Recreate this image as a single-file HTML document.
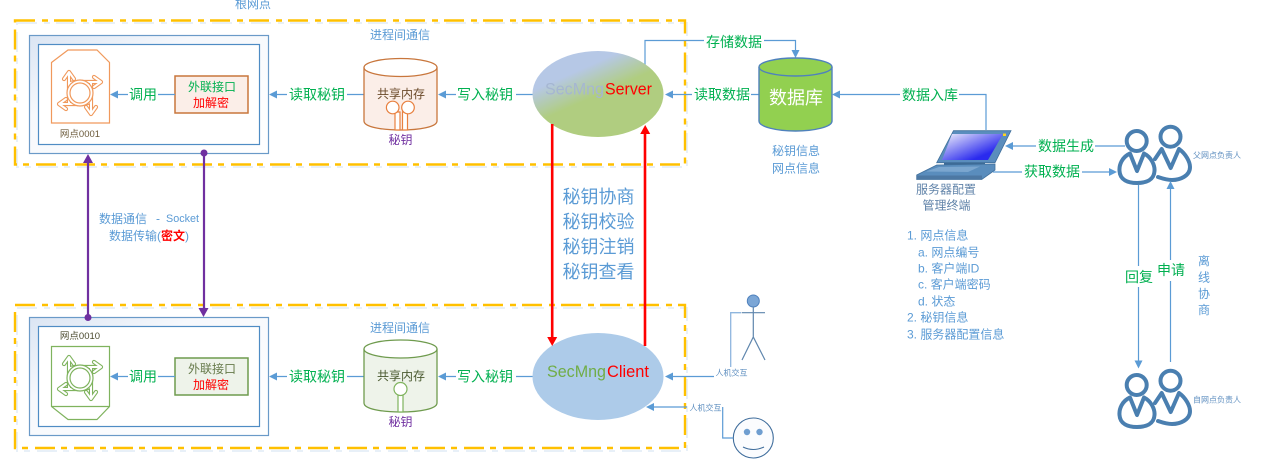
<!DOCTYPE html>
<html><head><meta charset="utf-8"><style>
html,body{margin:0;padding:0;background:#fff;width:1265px;height:473px;overflow:hidden}
svg{display:block}
text{font-family:"Liberation Sans","Noto Sans CJK SC",sans-serif;text-anchor:middle;dominant-baseline:central}
.g{fill:#00b050;font-size:14px}.b{fill:#5b9bd5;font-size:12px}.s{fill:#5f8fc0;font-size:8px}
.l{stroke:#5b9bd5;stroke-width:1.2;fill:none}.a{fill:#5b9bd5}
.w{fill:#fff}
.left{text-anchor:start}
</style></head><body>
<svg width="1265" height="473" viewBox="0 0 1265 473" xmlns="http://www.w3.org/2000/svg">
<defs>
<linearGradient id="box" x1="0" y1="0" x2="1" y2="1"><stop offset="0" stop-color="#dbe5f3"/><stop offset=".35" stop-color="#f6f8fc"/><stop offset="1" stop-color="#fff"/></linearGradient>
<linearGradient id="srv" x1="0.18" y1="0.05" x2="0.72" y2="0.85"><stop offset="0.25" stop-color="#b6c8e6"/><stop offset="0.58" stop-color="#b0cd80"/></linearGradient>
<linearGradient id="scr" x1="0" y1="0" x2="1" y2="1"><stop offset="0" stop-color="#f2f2fb"/><stop offset="0.75" stop-color="#2a2aee"/></linearGradient>
<g id="arms" fill="none" stroke-linejoin="round" stroke-linecap="round">
<path d="M69,95 L69,74 M64,79 L69,72 L74,79 M69,84 Q70,82 80,82 L99,82 M94,77 L101,82 L94,87 M91,82 L91,112 M86,107 L91,114 L96,107 M91,100 Q90,104 80,104 L61,104 M66,99 L59,104 L66,109 M69,104 L69,93"/>
</g>
<g id="people" fill="none" stroke="#4a7fb0" stroke-width="4" stroke-linecap="round">
<circle cx="1136.700" cy="141" r="10" fill="#fff"/>
<path d="M1130,153.500 C1122,157 1119,165 1119.500,171 C1120,180 1128,183 1137,183 C1146,183 1154,180 1154.500,171 C1155,165 1151,157 1144,153.500 L1137,171 Z" stroke-linejoin="round"/>
<circle cx="1170.500" cy="136.700" r="10" fill="#fff"/>
<path d="M1155,159 L1161.700,149 L1170.700,168 L1179,149 C1186,154 1190,162 1190,167 C1190,176 1180,180 1172,180 C1166,180 1161,178 1158,177" stroke-linejoin="round"/>
</g>
</defs>

<!-- dashed shadow + boxes -->
<rect x="17" y="23" width="670" height="144" fill="none" stroke="#e8f0f8" stroke-width="2" stroke-dasharray="20 7 6 6"/>
<rect x="17" y="308" width="670" height="143" fill="none" stroke="#e8f0f8" stroke-width="2" stroke-dasharray="20 7 6 6"/>
<rect x="15" y="20.500" width="670" height="144" fill="none" stroke="#ffc000" stroke-width="2.400" stroke-dasharray="20 7 6 6"/>
<rect x="15" y="305" width="670" height="143" fill="none" stroke="#ffc000" stroke-width="2.400" stroke-dasharray="20 7 6 6"/>

<text class="b" x="253" y="4">根网点</text>
<text class="b" x="400" y="35">进程间通信</text>
<text class="b" x="400" y="328">进程间通信</text>

<!-- node 1 -->
<rect x="29.500" y="35.500" width="239" height="118" fill="url(#box)" stroke="#6a9ac8" stroke-width="1.200"/>
<rect x="38.500" y="44.500" width="221" height="100" fill="#fff" stroke="#4f8cc4" stroke-width="1.200"/>
<path d="M51.500,62.500 L68,50 L97,50 L109.500,62.500 L109.500,123 L51.500,123 Z" fill="#fff" stroke="#f0995c" stroke-width="1.200"/>
<use href="#arms" stroke="#f0995c" stroke-width="4.200"/>
<use href="#arms" stroke="#fff" stroke-width="2"/>
<circle cx="80" cy="93" r="13" fill="#fff" stroke="#f0995c" stroke-width="1.200"/>
<circle cx="80" cy="93" r="10" fill="#fff" stroke="#f0995c" stroke-width="1.200"/>
<text x="80" y="134.500" style="font-size:9.500px" fill="#6b5a3a">网点0001</text>
<rect x="175" y="76" width="73" height="37" fill="#fbeee8" stroke="#c8763c" stroke-width="1.500"/>
<text x="212" y="87" class="g" style="font-size:12px">外联接口</text>
<text x="211" y="103" style="font-size:12px" fill="#ff0000">加解密</text>

<!-- node 2 -->
<rect x="29.500" y="317.500" width="239" height="118" fill="url(#box)" stroke="#6a9ac8" stroke-width="1.200"/>
<rect x="38.500" y="326.500" width="221" height="100" fill="#fff" stroke="#4f8cc4" stroke-width="1.200"/>
<path d="M51.500,346.500 L109.500,346.500 L109.500,406.500 L97,419.500 L68,419.500 L51.500,406.500 Z M51.500,406.500 L109.500,406.500" fill="#fff" stroke="#7fb35e" stroke-width="1.200"/>
<g transform="translate(0,285)">
<use href="#arms" stroke="#7fb35e" stroke-width="4.200"/>
<use href="#arms" stroke="#fff" stroke-width="2"/>
<circle cx="80" cy="93" r="13" fill="#fff" stroke="#7fb35e" stroke-width="1.200"/>
<circle cx="80" cy="93" r="10" fill="#fff" stroke="#7fb35e" stroke-width="1.200"/>
</g>
<text x="80" y="336.500" style="font-size:9.500px" fill="#4a4a2e">网点0010</text>
<rect x="175" y="358" width="73" height="37" fill="#eef3ea" stroke="#6f9b4e" stroke-width="1.500"/>
<text x="212" y="369" style="font-size:12px" fill="#667a4a">外联接口</text>
<text x="211" y="385" style="font-size:12px" fill="#ff0000">加解密</text>

<!-- horizontal connectors left -->
<g class="l">
<path d="M175,94.500 L113,94.500"/><path d="M364,94.500 L272,94.500"/><path d="M533,94.500 L441,94.500"/>
<path d="M175,376.500 L113,376.500"/><path d="M364,376.500 L272,376.500"/><path d="M533,376.500 L441,376.500"/>
</g>
<g class="a">
<path d="M110,94.500 l8,-4 v8z"/><path d="M269,94.500 l8,-4 v8z"/><path d="M438,94.500 l8,-4 v8z"/>
<path d="M110,376.500 l8,-4 v8z"/><path d="M269,376.500 l8,-4 v8z"/><path d="M438,376.500 l8,-4 v8z"/>
</g>
<rect x="128" y="85" width="30" height="19" class="w"/><rect x="287" y="85" width="60" height="19" class="w"/><rect x="456" y="85" width="60" height="19" class="w"/>
<rect x="128" y="367" width="30" height="19" class="w"/><rect x="287" y="367" width="60" height="19" class="w"/><rect x="456" y="367" width="60" height="19" class="w"/>
<text class="g" x="143" y="94.500">调用</text><text class="g" x="317" y="94.500">读取秘钥</text><text class="g" x="485" y="94.500">写入秘钥</text>
<text class="g" x="143" y="376.500">调用</text><text class="g" x="317" y="376.500">读取秘钥</text><text class="g" x="485" y="376.500">写入秘钥</text>

<!-- cylinder 1 -->
<path d="M364,67.500 V121 C364,127 382,130 400.500,130 C419,130 437,127 437,121 V67.500" fill="#fbeee8" stroke="#c8763c" stroke-width="1.300"/>
<ellipse cx="400.500" cy="67.500" rx="36.500" ry="9" fill="#fff" stroke="#c8763c" stroke-width="1.300"/>
<g fill="#fff" stroke="#e8803f" stroke-width="1.200">
<path d="M395,112 V130 H400 V112 Z"/><path d="M402.500,112 V130 H407.500 V112 Z"/>
<circle cx="392.700" cy="107.500" r="6.300"/><circle cx="408" cy="107.500" r="6.300"/>
</g>
<text x="401" y="94" style="font-size:12px" fill="#6b4a2a">共享内存</text>
<text x="400.500" y="140" style="font-size:12px" fill="#7030a0">秘钥</text>

<!-- cylinder 2 -->
<path d="M364,349 V403 C364,409 382,412 400.500,412 C419,412 437,409 437,403 V349" fill="#eef3ea" stroke="#6f9b4e" stroke-width="1.300"/>
<ellipse cx="400.500" cy="349" rx="36.500" ry="9" fill="#fff" stroke="#6f9b4e" stroke-width="1.300"/>
<g fill="#fff" stroke="#7fb35e" stroke-width="1.200">
<path d="M398,394 V412 H403 V394 Z"/>
<circle cx="400.500" cy="389" r="6.500"/>
</g>
<text x="401" y="376" style="font-size:12px" fill="#4a5a30">共享内存</text>
<text x="400.500" y="422" style="font-size:12px" fill="#7030a0">秘钥</text>

<!-- ellipses -->
<path class="l" d="M645,66 V40.500 H795.500 V52"/>
<path class="a" d="M795.500,58 l-4,-8 h8z"/>
<ellipse cx="598" cy="94" rx="65.500" ry="43" fill="url(#srv)"/>
<ellipse cx="598" cy="376.500" rx="65.500" ry="43.500" fill="#adcbe9"/>
<text x="574.500" y="89" style="font-size:17px" textLength="59" lengthAdjust="spacingAndGlyphs" fill="#a5b6d2">SecMng</text>
<text x="628.500" y="89" style="font-size:17px" textLength="47" lengthAdjust="spacingAndGlyphs" fill="#ff0000">Server</text>
<text x="576.500" y="371.500" style="font-size:17px" textLength="59" lengthAdjust="spacingAndGlyphs" fill="#70ad47">SecMng</text>
<text x="628" y="371.500" style="font-size:17px" textLength="42" lengthAdjust="spacingAndGlyphs" fill="#ff0000">Client</text>

<!-- red -->
<path d="M552.200,124 V340" stroke="#ff0000" stroke-width="2.600" fill="none"/>
<path d="M552.200,346 l-5,-9 h10z" fill="#ff0000"/>
<path d="M645,346 V132" stroke="#ff0000" stroke-width="2.600" fill="none"/>
<path d="M645.200,125 l-5,9 h10z" fill="#ff0000"/>
<text x="598.500" y="197" style="font-size:18px" fill="#5b9bd5">秘钥协商</text>
<text x="598.500" y="222" style="font-size:18px" fill="#5b9bd5">秘钥校验</text>
<text x="598.500" y="247" style="font-size:18px" fill="#5b9bd5">秘钥注销</text>
<text x="598.500" y="272" style="font-size:18px" fill="#5b9bd5">秘钥查看</text>

<!-- purple -->
<path d="M88,162 V317" stroke="#7030a0" stroke-width="2.200" fill="none"/>
<path d="M88,154 l-5,9 h10z" fill="#7030a0"/>
<circle cx="88" cy="317.500" r="3.500" fill="#7030a0"/>
<path d="M204,153 V309" stroke="#7030a0" stroke-width="2.200" fill="none"/>
<path d="M203.500,317 l-5,-9 h10z" fill="#7030a0"/>
<circle cx="204" cy="153" r="3.500" fill="#7030a0"/>
<text class="b left" x="99" y="219">数据通信</text>
<text class="b" x="158" y="218.500">-</text>
<text class="b left" x="166" y="219" textLength="33" lengthAdjust="spacingAndGlyphs" style="font-size:11px">Socket</text>
<text x="149" y="236" style="font-size:12px"><tspan fill="#5b9bd5">数据传输(</tspan><tspan fill="#ff0000" font-weight="bold">密文</tspan><tspan fill="#5b9bd5">)</tspan></text>

<!-- DB -->
<path class="l" d="M759,94.500 H671"/><path class="a" d="M665,94.500 l8,-4 v8z"/>
<rect x="692" y="85" width="59" height="19" class="w"/>
<text class="g" x="722" y="94.500">读取数据</text>
<rect x="704" y="31" width="60" height="19" class="w"/>
<text class="g" x="734" y="42">存储数据</text>
<path d="M759,67 V121 C759,127 777,131 795.500,131 C814,131 832,127 832,121 V67" fill="#92d050" stroke="#4f81bd" stroke-width="1.400"/>
<ellipse cx="795.500" cy="67" rx="36.500" ry="9" fill="#92d050" stroke="#4f81bd" stroke-width="1.400"/>
<text x="796" y="98" style="font-size:18px" fill="#fff">数据库</text>
<text class="b" x="796" y="151">秘钥信息</text>
<text class="b" x="796" y="168.500">网点信息</text>

<!-- 数据入库 -->
<path class="l" d="M986,130 V94.500 H839"/><path class="a" d="M832,94.500 l8,-4 v8z"/>
<rect x="900" y="85" width="59" height="19" class="w"/>
<text class="g" x="930" y="95">数据入库</text>

<!-- laptop -->
<path d="M953.500,130.700 L1011,130.700 L995,162.700 L936.700,162.700 Z" fill="#5a8dbd" stroke="#41709c" stroke-width=".8"/>
<path d="M952,134 L1003,134 L988,160 L942,160 Z" fill="url(#scr)"/>
<rect x="1003" y="133.500" width="3" height="2.500" fill="#ffd21f"/>
<path d="M944,162.700 H985 V165 H944 Z" fill="#3d6a96"/>
<path d="M916.700,175 L936.700,165 L995,164 L995,170 L981.700,179.500 L916.700,179.500 Z" fill="#5a8dbd" stroke="#41709c" stroke-width=".8"/>
<path d="M926,171.500 L939,167 L980,166.500 L968,172 Z" fill="#7ba6cf"/>
<rect x="917" y="175.500" width="65" height="4" fill="#4d78a3"/>
<text x="946" y="189.500" style="font-size:12px" fill="#5f82a8">服务器配置</text>
<text x="946.500" y="205.500" style="font-size:12px" fill="#5f82a8">管理终端</text>

<!-- laptop connectors -->
<path class="l" d="M1125,146 H1011"/><path class="a" d="M1005,146 l8,-4 v8z"/>
<rect x="1036" y="136" width="59" height="19" class="w"/>
<text class="g" x="1066" y="146">数据生成</text>
<path class="l" d="M993,172 H1111"/><path class="a" d="M1117,172 l-8,-4 v8z"/>
<rect x="1022" y="162" width="60" height="19" class="w"/>
<text class="g" x="1052" y="171.500">获取数据</text>

<!-- people -->
<use href="#people"/>
<use href="#people" transform="translate(0,244)"/>
<text class="s" x="1217" y="155.500">父网点负责人</text>
<text class="s" x="1217" y="400">自网点负责人</text>

<path class="l" d="M1138.500,185 V362"/><path class="a" d="M1138.500,368.500 l-4,-8 h8z"/>
<path class="l" d="M1170.500,362 V188"/><path class="a" d="M1170.500,181 l-4,8 h8z"/>
<rect x="1124" y="266" width="30" height="21" class="w"/>
<rect x="1156" y="260" width="30" height="21" class="w"/>
<text class="g" x="1139" y="277">回复</text>
<text class="g" x="1171" y="270">申请</text>
<text class="b" x="1204" y="261">离</text><text class="b" x="1204" y="277.500">线</text><text class="b" x="1204" y="294">协</text><text class="b" x="1204" y="310">商</text>

<!-- list -->
<text class="b left" x="907" y="235.500">1. 网点信息</text>
<text class="b left" x="918" y="252.500">a. 网点编号</text>
<text class="b left" x="918" y="268.500">b. 客户端ID</text>
<text class="b left" x="918" y="284.500">c. 客户端密码</text>
<text class="b left" x="918" y="301.500">d. 状态</text>
<text class="b left" x="907" y="317.500">2. 秘钥信息</text>
<text class="b left" x="907" y="334.500">3. 服务器配置信息</text>

<!-- stick man -->
<circle cx="753.300" cy="301" r="6" fill="#7ba6d6" stroke="#4f81bd"/>
<path d="M753.300,307 V337 M741.700,312.700 H765 M742,360 L753.300,337 L765,360" stroke="#5f86ad" stroke-width="1.200" fill="none"/>
<path d="M741,312.700 H730.700 V367" stroke="#8fb6de" stroke-width="1.300" fill="none"/>
<path class="l" d="M714,376.500 H671"/><path class="a" d="M665,376.500 l8,-4 v8z"/>
<text class="s" x="731.500" y="373">人机交互</text>

<!-- smile -->
<circle cx="753.300" cy="438" r="20" fill="#fbfcfe" stroke="#3f6d9c" stroke-width="1.100"/>
<circle cx="747" cy="432" r="3.200" fill="#6f9ed0"/><circle cx="759.500" cy="432" r="3.200" fill="#6f9ed0"/>
<path d="M743,447 Q753,452 764,447" fill="none" stroke="#3f6d9c" stroke-width="1.100"/>
<path class="l" d="M733,438 H722.700 V407"/>
<path class="l" d="M687,407 H652"/><path class="a" d="M646,407 l8,-4 v8z"/>
<text class="s" x="705.500" y="408">人机交互</text>
</svg>
</body></html>
